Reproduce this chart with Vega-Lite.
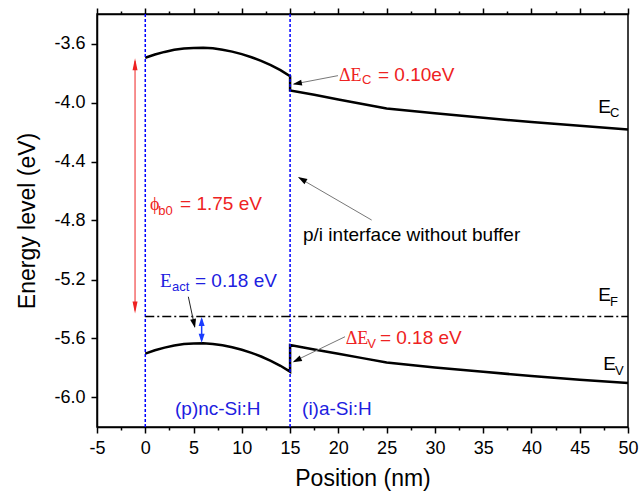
{
  "$schema": "https://vega.github.io/schema/vega-lite/v6.json",
  "width": 531,
  "height": 413,
  "autosize": {"type": "none"},
  "padding": {"left": 97, "top": 14, "right": 14, "bottom": 73},
  "background": "white",
  "config": {
    "view": {"stroke": "black", "strokeWidth": 1.5},
    "axis": {
      "grid": false,
      "domainColor": "black",
      "domainWidth": 1.5,
      "tickColor": "black",
      "tickWidth": 1.5,
      "labelFont": "Liberation Sans",
      "labelFontSize": 18,
      "labelColor": "black",
      "labelPadding": 6,
      "titleFont": "Liberation Sans",
      "titleFontSize": 23,
      "titleFontWeight": "normal",
      "titleColor": "black"
    }
  },
  "datasets": {
    "curves": [
      {"band": "EC", "i": 0, "x": 0, "y": -3.697},
      {"band": "EC", "i": 1, "x": 1, "y": -3.675},
      {"band": "EC", "i": 2, "x": 2, "y": -3.657},
      {"band": "EC", "i": 3, "x": 3, "y": -3.643},
      {"band": "EC", "i": 4, "x": 4, "y": -3.634},
      {"band": "EC", "i": 5, "x": 5, "y": -3.630},
      {"band": "EC", "i": 6, "x": 6, "y": -3.629},
      {"band": "EC", "i": 7, "x": 7, "y": -3.633},
      {"band": "EC", "i": 8, "x": 8, "y": -3.642},
      {"band": "EC", "i": 9, "x": 9, "y": -3.655},
      {"band": "EC", "i": 10, "x": 10, "y": -3.672},
      {"band": "EC", "i": 11, "x": 11, "y": -3.693},
      {"band": "EC", "i": 12, "x": 12, "y": -3.718},
      {"band": "EC", "i": 13, "x": 13, "y": -3.747},
      {"band": "EC", "i": 14, "x": 14, "y": -3.781},
      {"band": "EC", "i": 15, "x": 15, "y": -3.822},
      {"band": "EC", "i": 16, "x": 15, "y": -3.918},
      {"band": "EC", "i": 17, "x": 17.5, "y": -3.948},
      {"band": "EC", "i": 18, "x": 20, "y": -3.979},
      {"band": "EC", "i": 19, "x": 22.5, "y": -4.010},
      {"band": "EC", "i": 20, "x": 25, "y": -4.040},
      {"band": "EC", "i": 21, "x": 30, "y": -4.073},
      {"band": "EC", "i": 22, "x": 35, "y": -4.104},
      {"band": "EC", "i": 23, "x": 40, "y": -4.133},
      {"band": "EC", "i": 24, "x": 45, "y": -4.158},
      {"band": "EC", "i": 25, "x": 50, "y": -4.183},
      {"band": "EV", "i": 0, "x": 0, "y": -5.703},
      {"band": "EV", "i": 1, "x": 1, "y": -5.680},
      {"band": "EV", "i": 2, "x": 2, "y": -5.662},
      {"band": "EV", "i": 3, "x": 3, "y": -5.647},
      {"band": "EV", "i": 4, "x": 4, "y": -5.638},
      {"band": "EV", "i": 5, "x": 5, "y": -5.634},
      {"band": "EV", "i": 6, "x": 6, "y": -5.633},
      {"band": "EV", "i": 7, "x": 7, "y": -5.637},
      {"band": "EV", "i": 8, "x": 8, "y": -5.646},
      {"band": "EV", "i": 9, "x": 9, "y": -5.659},
      {"band": "EV", "i": 10, "x": 10, "y": -5.676},
      {"band": "EV", "i": 11, "x": 11, "y": -5.697},
      {"band": "EV", "i": 12, "x": 12, "y": -5.722},
      {"band": "EV", "i": 13, "x": 13, "y": -5.751},
      {"band": "EV", "i": 14, "x": 14, "y": -5.785},
      {"band": "EV", "i": 15, "x": 15, "y": -5.825},
      {"band": "EV", "i": 16, "x": 15, "y": -5.644},
      {"band": "EV", "i": 17, "x": 17.5, "y": -5.674},
      {"band": "EV", "i": 18, "x": 20, "y": -5.704},
      {"band": "EV", "i": 19, "x": 22.5, "y": -5.733},
      {"band": "EV", "i": 20, "x": 25, "y": -5.763},
      {"band": "EV", "i": 21, "x": 30, "y": -5.797},
      {"band": "EV", "i": 22, "x": 35, "y": -5.826},
      {"band": "EV", "i": 23, "x": 40, "y": -5.854},
      {"band": "EV", "i": 24, "x": 45, "y": -5.879},
      {"band": "EV", "i": 25, "x": 50, "y": -5.902}
    ]
  },
  "resolve": {"axis": {"x": "independent"}},
  "layer": [
    {
      "data": {"name": "curves"},
      "mark": {"type": "line", "color": "black", "strokeWidth": 2.5},
      "encoding": {
        "x": {
          "field": "x", "type": "quantitative",
          "scale": {"domain": [-5, 50], "nice": false, "zero": false},
          "axis": {
            "orient": "bottom",
            "title": "Position (nm)",
            "titlePadding": 10,
            "values": [-5, -2.5, 0, 2.5, 5, 7.5, 10, 12.5, 15, 17.5, 20, 22.5, 25, 27.5, 30, 32.5, 35, 37.5, 40, 42.5, 45, 47.5, 50],
            "labelExpr": "datum.value % 5 == 0 ? replace(format(datum.value, 'd'), '−', '-') : ''",
            "tickSize": {"condition": {"test": "datum.value % 5 != 0", "value": 3}, "value": 6},
            "labelFlush": false,
            "labelOverlap": false
          }
        },
        "y": {
          "field": "y", "type": "quantitative",
          "scale": {"domain": [-6.2, -3.4], "nice": false, "zero": false},
          "axis": {
            "orient": "left",
            "title": "Energy level (eV)",
            "titlePadding": 14,
            "values": [-6.0, -5.8, -5.6, -5.4, -5.2, -5.0, -4.8, -4.6, -4.4, -4.2, -4.0, -3.8, -3.6],
            "labelExpr": "abs(round(datum.value * 10)) % 4 == 0 ? replace(format(datum.value, '.1f'), '−', '-') : ''",
            "tickSize": {"condition": {"test": "abs(round(datum.value * 10)) % 4 != 0", "value": 3}, "value": 6},
            "labelFlush": false,
            "labelOverlap": false
          }
        },
        "detail": {"field": "band"},
        "order": {"field": "i", "type": "quantitative"}
      }
    },
    {
      "data": {"values": [{"x": 0}, {"x": 15}]},
      "mark": {"type": "rule", "color": "#0000ff", "strokeWidth": 1.5, "strokeDash": [3, 2]},
      "encoding": {
        "x": {
          "field": "x", "type": "quantitative",
          "axis": {
            "orient": "top",
            "title": null,
            "labels": false,
            "values": [-5, -2.5, 0, 2.5, 5, 7.5, 10, 12.5, 15, 17.5, 20, 22.5, 25, 27.5, 30, 32.5, 35, 37.5, 40, 42.5, 45, 47.5, 50],
            "tickSize": {"condition": {"test": "datum.value % 5 != 0", "value": 3}, "value": 6}
          }
        }
      }
    },
    {
      "data": {"values": [{"x": 0, "y": -5.45}, {"x": 50, "y": -5.45}]},
      "mark": {"type": "line", "color": "black", "strokeWidth": 1.5, "strokeDash": [9, 3, 2, 3]},
      "encoding": {
        "x": {"field": "x", "type": "quantitative", "axis": null},
        "y": {"field": "y", "type": "quantitative"}
      }
    },
    {
      "data": {"values": [{"x": -1.06, "y": -3.72, "y2": -5.41}]},
      "mark": {"type": "rule", "color": "#ee2222", "strokeWidth": 1},
      "encoding": {
        "x": {"field": "x", "type": "quantitative", "axis": null},
        "y": {"field": "y", "type": "quantitative"},
        "y2": {"field": "y2"}
      }
    },
    {
      "data": {"values": [{"x": -1.06, "y": -3.70}]},
      "mark": {"type": "point", "shape": "M0,0L-0.5,2.4L0.5,2.4Z", "filled": true, "opacity": 1, "color": "#ee2222", "size": 100, "angle": 0, "strokeWidth": 0},
      "encoding": {
        "x": {"field": "x", "type": "quantitative", "axis": null},
        "y": {"field": "y", "type": "quantitative"}
      }
    },
    {
      "data": {"values": [{"x": -1.06, "y": -5.43}]},
      "mark": {"type": "point", "shape": "M0,0L-0.5,2.4L0.5,2.4Z", "filled": true, "opacity": 1, "color": "#ee2222", "size": 100, "angle": 180, "strokeWidth": 0},
      "encoding": {
        "x": {"field": "x", "type": "quantitative", "axis": null},
        "y": {"field": "y", "type": "quantitative"}
      }
    },
    {
      "data": {"values": [{"x": 5.84, "y": -5.47, "y2": -5.61}]},
      "mark": {"type": "rule", "color": "#1a3cff", "strokeWidth": 1.5},
      "encoding": {
        "x": {"field": "x", "type": "quantitative", "axis": null},
        "y": {"field": "y", "type": "quantitative"},
        "y2": {"field": "y2"}
      }
    },
    {
      "data": {"values": [{"x": 5.84, "y": -5.455}]},
      "mark": {"type": "point", "shape": "M0,0L-0.75,2.2L0.75,2.2Z", "filled": true, "opacity": 1, "color": "#1a3cff", "size": 64, "angle": 0, "strokeWidth": 0},
      "encoding": {
        "x": {"field": "x", "type": "quantitative", "axis": null},
        "y": {"field": "y", "type": "quantitative"}
      }
    },
    {
      "data": {"values": [{"x": 5.84, "y": -5.628}]},
      "mark": {"type": "point", "shape": "M0,0L-0.75,2.2L0.75,2.2Z", "filled": true, "opacity": 1, "color": "#1a3cff", "size": 64, "angle": 180, "strokeWidth": 0},
      "encoding": {
        "x": {"field": "x", "type": "quantitative", "axis": null},
        "y": {"field": "y", "type": "quantitative"}
      }
    },
    {
      "data": {"values": [
        {"x": 19.96, "y": -3.818, "x2": 15.4, "y2": -3.875},
        {"x": 23.45, "y": -4.797, "x2": 15.9, "y2": -4.51},
        {"x": 20.69, "y": -5.588, "x2": 15.4, "y2": -5.755}
      ]},
      "mark": {"type": "rule", "color": "#777777", "strokeWidth": 1},
      "encoding": {
        "x": {"field": "x", "type": "quantitative", "axis": null},
        "y": {"field": "y", "type": "quantitative"},
        "x2": {"field": "x2"},
        "y2": {"field": "y2"}
      }
    },
    {
      "data": {"values": [{"x": 4.46, "y": -5.317, "x2": 5.12, "y2": -5.52}]},
      "mark": {"type": "rule", "color": "#222222", "strokeWidth": 1},
      "encoding": {
        "x": {"field": "x", "type": "quantitative", "axis": null},
        "y": {"field": "y", "type": "quantitative"},
        "x2": {"field": "x2"},
        "y2": {"field": "y2"}
      }
    },
    {
      "data": {"values": [{"x": 15.27, "y": -3.877}]},
      "mark": {"type": "point", "shape": "M0,0L-0.75,2.3L0.75,2.3Z", "filled": true, "opacity": 1, "color": "black", "size": 64, "angle": 259, "strokeWidth": 0},
      "encoding": {
        "x": {"field": "x", "type": "quantitative", "axis": null},
        "y": {"field": "y", "type": "quantitative"}
      }
    },
    {
      "data": {"values": [{"x": 15.82, "y": -4.505}]},
      "mark": {"type": "point", "shape": "M0,0L-0.75,2.3L0.75,2.3Z", "filled": true, "opacity": 1, "color": "black", "size": 64, "angle": 300, "strokeWidth": 0},
      "encoding": {
        "x": {"field": "x", "type": "quantitative", "axis": null},
        "y": {"field": "y", "type": "quantitative"}
      }
    },
    {
      "data": {"values": [{"x": 15.27, "y": -5.761}]},
      "mark": {"type": "point", "shape": "M0,0L-0.75,2.3L0.75,2.3Z", "filled": true, "opacity": 1, "color": "black", "size": 64, "angle": 244, "strokeWidth": 0},
      "encoding": {
        "x": {"field": "x", "type": "quantitative", "axis": null},
        "y": {"field": "y", "type": "quantitative"}
      }
    },
    {
      "data": {"values": [{"x": 5.15, "y": -5.529}]},
      "mark": {"type": "point", "shape": "M0,0L-0.75,2.3L0.75,2.3Z", "filled": true, "opacity": 1, "color": "black", "size": 64, "angle": 168, "strokeWidth": 0},
      "encoding": {
        "x": {"field": "x", "type": "quantitative", "axis": null},
        "y": {"field": "y", "type": "quantitative"}
      }
    },
    {
      "data": {"values": [
        {"t": "p/i interface without buffer", "x": 16.34, "y": -4.939},
        {"t": "E", "x": 46.92, "y": -4.073},
        {"t": "E", "x": 46.92, "y": -5.344},
        {"t": "E", "x": 47.44, "y": -5.814}
      ]},
      "mark": {"type": "text", "align": "left", "baseline": "alphabetic", "font": "Liberation Sans", "fontSize": 19, "color": "black"},
      "encoding": {
        "x": {"field": "x", "type": "quantitative", "axis": null},
        "y": {"field": "y", "type": "quantitative"},
        "text": {"field": "t"}
      }
    },
    {
      "data": {"values": [
        {"t": "C", "x": 48.14, "y": -4.100},
        {"t": "F", "x": 48.14, "y": -5.380},
        {"t": "V", "x": 48.66, "y": -5.847}
      ]},
      "mark": {"type": "text", "align": "left", "baseline": "alphabetic", "font": "Liberation Sans", "fontSize": 13, "color": "black"},
      "encoding": {
        "x": {"field": "x", "type": "quantitative", "axis": null},
        "y": {"field": "y", "type": "quantitative"},
        "text": {"field": "t"}
      }
    },
    {
      "data": {"values": [
        {"t": "= 1.75 eV", "x": 3.6, "y": -4.729},
        {"t": "= 0.10eV", "x": 24.1, "y": -3.854},
        {"t": "= 0.18 eV", "x": 24.3, "y": -5.637}
      ]},
      "mark": {"type": "text", "align": "left", "baseline": "alphabetic", "font": "Liberation Sans", "fontSize": 19, "color": "#ee2222"},
      "encoding": {
        "x": {"field": "x", "type": "quantitative", "axis": null},
        "y": {"field": "y", "type": "quantitative"},
        "text": {"field": "t"}
      }
    },
    {
      "data": {"values": [
        {"t": "b0", "x": 1.35, "y": -4.763},
        {"t": "C", "x": 22.45, "y": -3.877},
        {"t": "V", "x": 22.99, "y": -5.662}
      ]},
      "mark": {"type": "text", "align": "left", "baseline": "alphabetic", "font": "Liberation Sans", "fontSize": 13, "color": "#ee2222"},
      "encoding": {
        "x": {"field": "x", "type": "quantitative", "axis": null},
        "y": {"field": "y", "type": "quantitative"},
        "text": {"field": "t"}
      }
    },
    {
      "data": {"values": [
        {"t": "ϕ", "x": 0.49, "y": -4.729},
        {"t": "ΔE", "x": 20.07, "y": -3.854},
        {"t": "ΔE", "x": 20.76, "y": -5.637}
      ]},
      "mark": {"type": "text", "align": "left", "baseline": "alphabetic", "font": "Liberation Serif", "fontSize": 18, "color": "#ee2222"},
      "encoding": {
        "x": {"field": "x", "type": "quantitative", "axis": null},
        "y": {"field": "y", "type": "quantitative"},
        "text": {"field": "t"}
      }
    },
    {
      "data": {"values": [{"t": "E", "x": 1.53, "y": -5.249}]},
      "mark": {"type": "text", "align": "left", "baseline": "alphabetic", "font": "Liberation Serif", "fontSize": 19, "color": "#2020e0"},
      "encoding": {
        "x": {"field": "x", "type": "quantitative", "axis": null},
        "y": {"field": "y", "type": "quantitative"},
        "text": {"field": "t"}
      }
    },
    {
      "data": {"values": [{"t": "act", "x": 2.77, "y": -5.278}]},
      "mark": {"type": "text", "align": "left", "baseline": "alphabetic", "font": "Liberation Sans", "fontSize": 13, "color": "#2020e0"},
      "encoding": {
        "x": {"field": "x", "type": "quantitative", "axis": null},
        "y": {"field": "y", "type": "quantitative"},
        "text": {"field": "t"}
      }
    },
    {
      "data": {"values": [
        {"t": "= 0.18 eV", "x": 5.15, "y": -5.249},
        {"t": "(p)nc-Si:H", "x": 3.08, "y": -6.119},
        {"t": "(i)a-Si:H", "x": 16.24, "y": -6.119}
      ]},
      "mark": {"type": "text", "align": "left", "baseline": "alphabetic", "font": "Liberation Sans", "fontSize": 19, "color": "#2020e0"},
      "encoding": {
        "x": {"field": "x", "type": "quantitative", "axis": null},
        "y": {"field": "y", "type": "quantitative"},
        "text": {"field": "t"}
      }
    }
  ]
}
